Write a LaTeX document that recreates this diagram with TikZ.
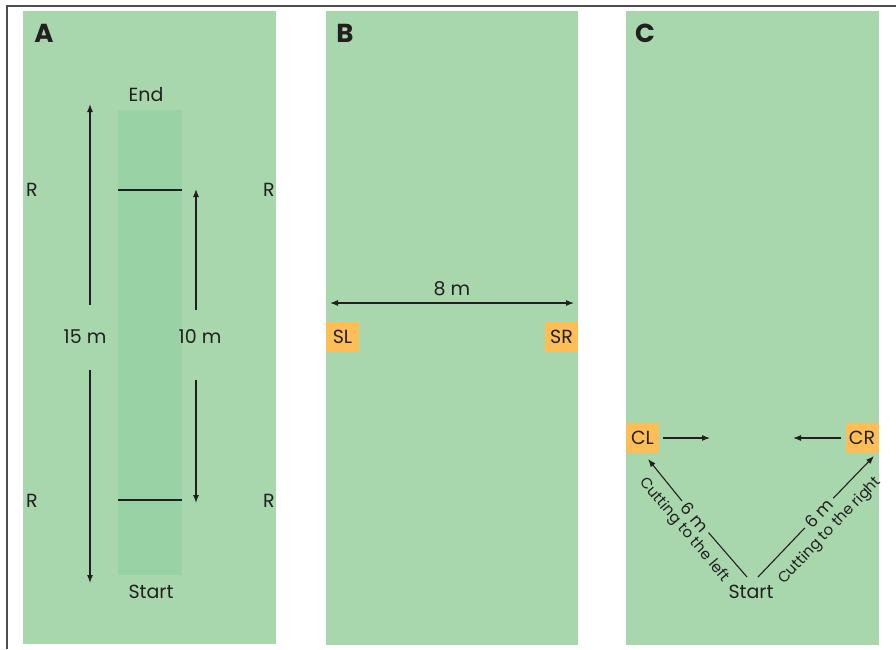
\documentclass[tikz,border=0pt]{standalone}
\usepackage{fontspec}
\setmainfont{Poppins}
\usetikzlibrary{arrows.meta}
\definecolor{field}{HTML}{A8D7AD}
\definecolor{strip}{HTML}{99D2A4}
\definecolor{marker}{HTML}{FDBD57}
\definecolor{ink}{HTML}{231F20}
\definecolor{framegray}{HTML}{4D4D4D}
\begin{document}
\begin{tikzpicture}[x=1pt,y=-1pt,
  lbl/.style={font=\fontsize{19}{19}\selectfont, text=ink, inner sep=0pt},
  slant/.style={font=\fontsize{15}{15}\selectfont, text=ink, inner sep=0pt},
  panelletter/.style={font=\bfseries\fontsize{26}{26}\selectfont, text=ink, inner sep=0pt},
  cone/.style={fill=marker, text=ink, font=\fontsize{19}{19}\selectfont,
    minimum width=33pt, minimum height=30pt, inner sep=0pt},
  arr/.style={draw=ink, line width=1.1pt, -{Latex[length=8pt,width=6pt]}},
  dblarr/.style={draw=ink, line width=1.1pt, {Latex[length=8pt,width=6pt]}-{Latex[length=8pt,width=6pt]}},
  plain/.style={draw=ink, line width=1.1pt},
  gapmark/.style={font=\fontsize{17}{17}\selectfont, text=ink, inner sep=4pt}
]
\useasboundingbox (0,0) rectangle (896,649);

% outer frame (top and left edges)
\draw[framegray, line width=1.6pt] (6.7,649) -- (6.7,6) -- (896,6);

% playing fields
\fill[field] (23,11) rectangle (276,644);
\fill[field] (326,11) rectangle (578,645);
\fill[field] (626,11) rectangle (879,645);

% ---------- Panel A ----------
\fill[strip] (118,110) rectangle (182,575);
\node[panelletter] (letA) at (44,33) {A};
\node[lbl] (endA) at (146,95) {End};
\node[lbl] (startA) at (151,592) {Start};

\coordinate (lineTL) at (118,190);
\coordinate (lineTR) at (182,190);
\coordinate (lineBL) at (118,500);
\coordinate (lineBR) at (182,500);
\draw[plain] (lineTL) -- (lineTR);
\draw[plain] (lineBL) -- (lineBR);

\node[lbl] (rTL) at (32,190) {R};
\node[lbl] (rTR) at (269,190) {R};
\node[lbl] (rBL) at (32,501) {R};
\node[lbl] (rBR) at (269,501) {R};

% 15 m run
\node[lbl] (l15) at (85,337) {15 m};
\coordinate (a15top) at (90,104);
\coordinate (a15bot) at (90,583);
\coordinate (a15up) at (90,305);
\coordinate (a15dn) at (90,370);
\draw[arr] (a15up) -- (a15top);
\draw[arr] (a15dn) -- (a15bot);

% 10 m run
\node[lbl] (l10) at (200,337) {10 m};
\coordinate (a10top) at (196,189);
\coordinate (a10bot) at (196,503);
\coordinate (a10up) at (196,310);
\coordinate (a10dn) at (196,380);
\draw[arr] (a10up) -- (a10top);
\draw[arr] (a10dn) -- (a10bot);

% ---------- Panel B ----------
\node[panelletter] (letB) at (345,33) {B};
\node[cone] (SL) at (342.5,336.5) {SL};
\node[cone] (SR) at (561.5,336.5) {SR};
\coordinate (bL) at (330,303);
\coordinate (bR) at (574,303);
\draw[dblarr] (bL) -- (bR);
\node[lbl] (l8) at (452,289) {8 m};

% ---------- Panel C ----------
\node[panelletter] (letC) at (645,33) {C};
\node[cone] (CL) at (642.5,438) {CL};
\node[cone] (CR) at (862,438) {CR};
\coordinate (clTip) at (710,438);
\coordinate (crTip) at (793,438);
\draw[arr] (CL.east) ++(4,0) coordinate (clTail) (clTail) -- (clTip);
\draw[arr] (CR.west) ++(-4,0) coordinate (crTail) (crTail) -- (crTip);

\node[lbl] (startC) at (751,592) {Start};
\coordinate (vL) at (747,577);
\coordinate (vR) at (758,577);
\coordinate (tipL) at (648,459);
\coordinate (tipR) at (874,456);

\node[gapmark, rotate=-50] (sixL) at (695,517) {6 m};
\node[gapmark, rotate=46.5] (sixR) at (819,513) {6 m};
\draw[plain] (vL) -- (sixL);
\draw[arr] (sixL) -- (tipL);
\draw[plain] (vR) -- (sixR);
\draw[arr] (sixR) -- (tipR);

\node[slant, rotate=-50] (cutL) at (684,530) {Cutting to the left};
\node[slant, rotate=46.5] (cutR) at (830,531) {Cutting to the right};
\end{tikzpicture}
\end{document}
